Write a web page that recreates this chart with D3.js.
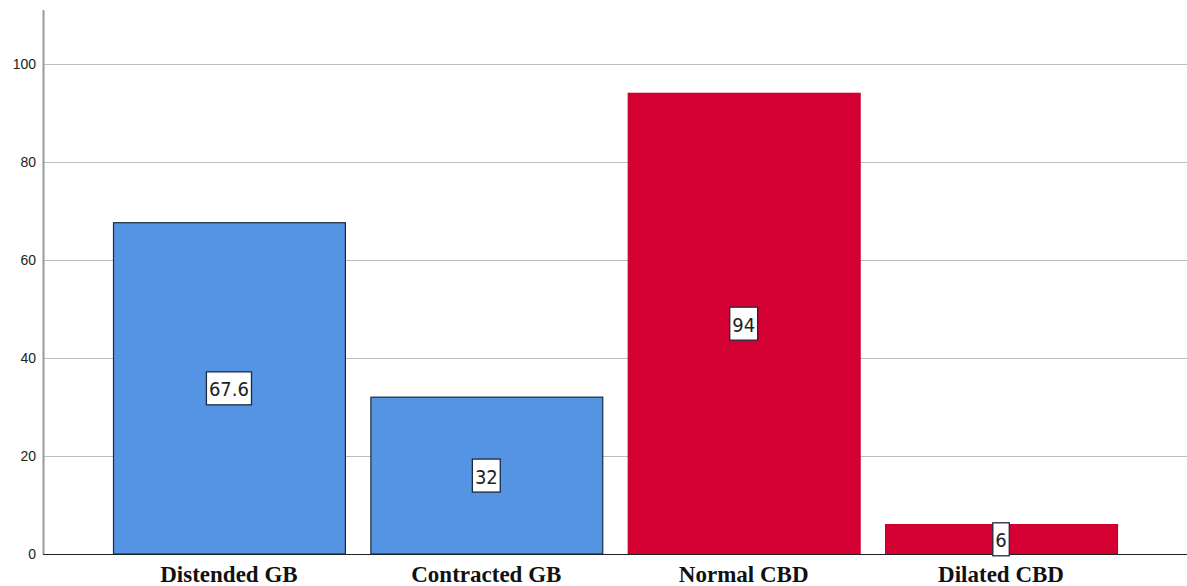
<!DOCTYPE html>
<html>
<head>
<meta charset="utf-8">
<script src="https://cdn.jsdelivr.net/npm/d3@7/dist/d3.min.js"></script>
<style>
  html, body { margin: 0; padding: 0; background: #fff; }
  svg { display: block; }
</style>
</head>
<body>
<svg id="chart" width="1187" height="586"></svg>
<script>
// Gallbladder and CBD findings (%)
const categories = ["Distended GB", "Contracted GB", "Normal CBD", "Dilated CBD"];
const values = [67.6, 32, 94, 6];
const groups = ["GB", "GB", "CBD", "CBD"];
const yTicks = [0, 20, 40, 60, 80, 100];

const W = 1187, H = 586;
const plot = { left: 43, right: 1187, top: 10, bottom: 554 };

const svg = d3.select("#chart");

const x = d3.scaleBand()
  .domain(categories)
  .range([plot.left, plot.right])
  .paddingInner(0.099)
  .paddingOuter(0.272);

const y = d3.scaleLinear()
  .domain([0, 111])
  .range([plot.bottom, plot.top]);

const fill = d3.scaleOrdinal().domain(["GB", "CBD"]).range(["#5593e3", "#d50032"]);
const stroke = d3.scaleOrdinal().domain(["GB", "CBD"]).range(["#1b2a40", "#c8002e"]);

// horizontal grid lines
svg.append("g")
  .selectAll("line")
  .data(yTicks.filter(d => d > 0))
  .join("line")
  .attr("x1", plot.left).attr("x2", plot.right)
  .attr("y1", d => Math.round(y(d)) + 0.5).attr("y2", d => Math.round(y(d)) + 0.5)
  .attr("stroke", "#bdbdbd").attr("stroke-width", 1);

// bars
const data = categories.map((c, i) => ({ cat: c, value: values[i], group: groups[i] }));
svg.append("g")
  .selectAll("rect")
  .data(data)
  .join("rect")
  .attr("x", d => x(d.cat) + 0.5)
  .attr("y", d => y(d.value))
  .attr("width", x.bandwidth())
  .attr("height", d => y(0) - y(d.value))
  .attr("fill", d => fill(d.group))
  .attr("stroke", d => stroke(d.group))
  .attr("stroke-width", 1.2);

// y axis
const yAxis = svg.append("g")
  .attr("transform", `translate(${plot.left},0)`)
  .call(d3.axisLeft(y).tickValues(yTicks).tickSize(0).tickPadding(7));
yAxis.select(".domain").remove();
yAxis.selectAll("text")
  .attr("font-family", "Liberation Sans, Arial, sans-serif")
  .attr("font-size", 14)
  .attr("fill", "#222");
svg.append("line")
  .attr("x1", plot.left + 0.5).attr("x2", plot.left + 0.5)
  .attr("y1", plot.top).attr("y2", plot.bottom)
  .attr("stroke", "#9a9a9a").attr("stroke-width", 2);

// x axis
const xAxis = svg.append("g")
  .attr("transform", `translate(0,${plot.bottom})`)
  .call(d3.axisBottom(x).tickSize(0).tickPadding(12));
xAxis.select(".domain").remove();
xAxis.selectAll("text")
  .attr("font-family", "Liberation Serif, Times New Roman, serif")
  .attr("font-weight", "bold")
  .attr("font-size", 23)
  .attr("fill", "#111");
svg.append("line")
  .attr("x1", plot.left).attr("x2", plot.right)
  .attr("y1", plot.bottom + 0.5).attr("y2", plot.bottom + 0.5)
  .attr("stroke", "#222").attr("stroke-width", 1.2);

// value labels in boxes at the middle of each bar
const labels = svg.append("g")
  .selectAll("g")
  .data(data)
  .join("g")
  .attr("transform", d => `translate(${x(d.cat) + x.bandwidth() / 2},${(y(0) + y(d.value)) / 2})`);

labels.each(function (d) {
  const g = d3.select(this);
  const rect = g.append("rect");
  const t = g.append("text")
    .attr("text-anchor", "middle")
    .attr("dominant-baseline", "central")
    .attr("y", 1)
    .attr("font-family", "DejaVu Sans Condensed, Liberation Sans Narrow, sans-serif")
    .attr("font-size", 20)
    .attr("font-weight", 300)
    .attr("fill", "#222")
    .text(d3.format("~g")(d.value));
  const w = t.node().getComputedTextLength() + 5;
  const h = 33;
  rect.attr("x", -w / 2).attr("y", -h / 2)
    .attr("width", w).attr("height", h)
    .attr("fill", "#fff")
    .attr("stroke", "#1b2a40").attr("stroke-width", 1.3);
});
</script>
</body>
</html>
